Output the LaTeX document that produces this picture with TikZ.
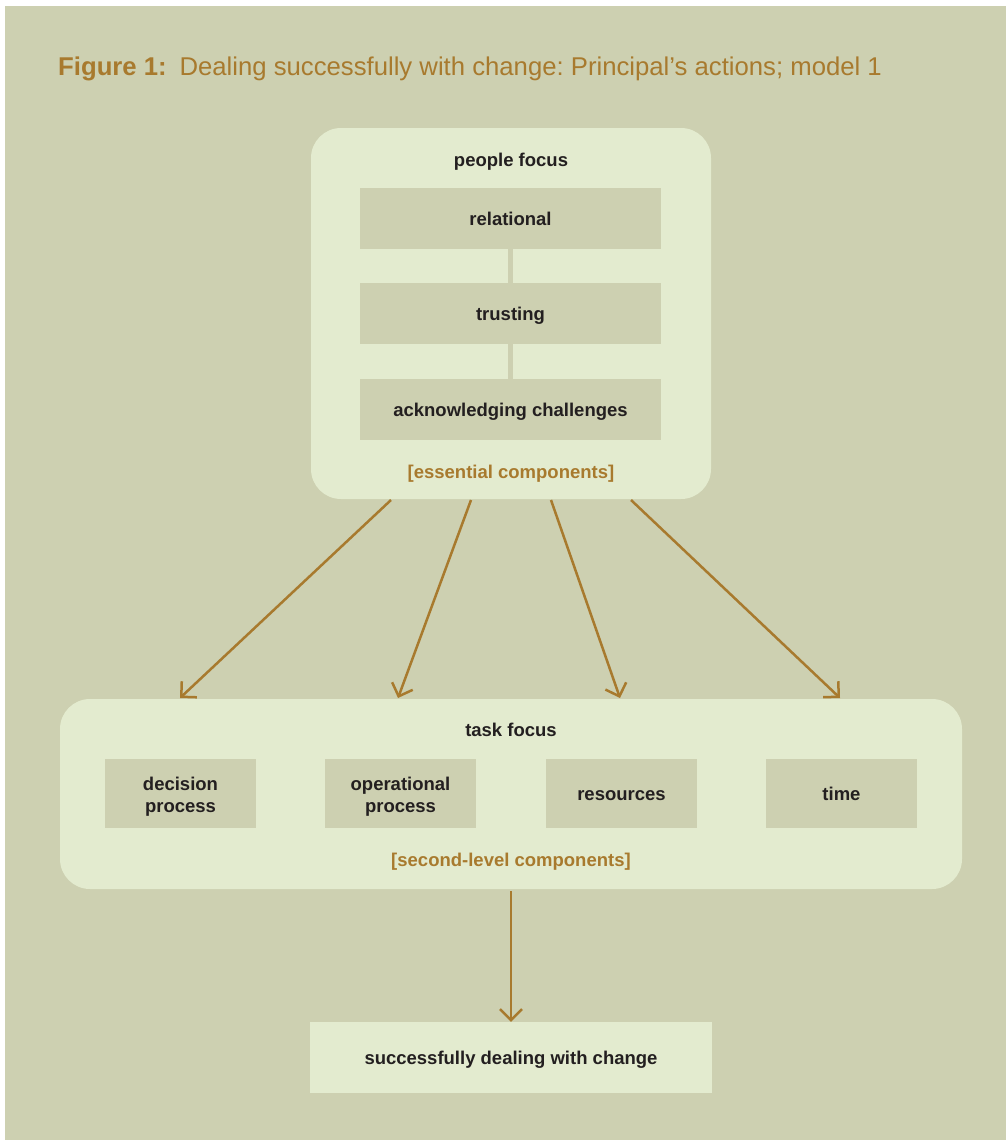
\documentclass[tikz,border=0pt]{standalone}
\usepackage{fontspec}
\setmainfont{Liberation Sans}
\usepackage{tikz}
\usetikzlibrary{arrows.meta}
\frenchspacing

\definecolor{pagebg}{RGB}{205,208,177}
\definecolor{boxbg}{RGB}{227,235,207}
\definecolor{brown}{RGB}{168,122,46}
\definecolor{ink}{RGB}{35,31,32}

\begin{document}
\begin{tikzpicture}[x=1pt, y=-1pt,
	every node/.style={font=\fontsize{18.5}{22}\selectfont\bfseries, text=ink, inner sep=0pt,
		text height=16pt, text depth=2pt},
	outer/.style={fill=boxbg, rounded corners=30pt},
	inner/.style={fill=pagebg, align=center},
	twoline/.style={text height=41.5pt, text depth=},
	note/.style={text=brown},
	arr/.style={draw=brown, line width=2.5pt, -{Straight Barb[length=11pt,width=22pt]}}]
	\useasboundingbox (0,0) rectangle (1006,1141);
	\fill[pagebg] (5,6) rectangle (1006,1140);
	\node[anchor=base west, text=brown, font=\fontsize{25.7}{30}\selectfont, text height=, text depth=] (title) at (58,75)
		{\textbf{Figure 1:}\enspace Dealing successfully with change: Principal’s actions; model 1};
	% people focus
	\node[outer, minimum width=400pt, minimum height=371pt] (people) at (511,313.5) {};
	\node (plabel) at (511,159) {people focus};
	\node[inner, minimum width=301pt, minimum height=61pt] (rel) at (510.5,218.5) {relational};
	\node[inner, minimum width=301pt, minimum height=61pt] (tru) at (510.5,313.5) {trusting};
	\node[inner, minimum width=301pt, minimum height=61pt] (ack) at (510.5,409.5) {acknowledging challenges};
	\node[note] (ess) at (511,471) {[essential components]};
	\foreach \from/\to in {rel/tru, tru/ack}
	\draw[pagebg, line width=5pt] (\from.south) -- (\to.north);
	% task focus
	\node[outer, minimum width=902pt, minimum height=190pt] (task) at (511,794) {};
	\node (tlabel) at (511,729) {task focus};
	\node[inner, twoline, minimum width=151pt, minimum height=69pt] (dec) at (180.5,793.5) {decision\\process};
	\node[inner, twoline, minimum width=151pt, minimum height=69pt] (ope) at (400.5,793.5) {operational\\process};
	\node[inner, minimum width=151pt, minimum height=69pt] (res) at (621.5,793.5) {resources};
	\node[inner, minimum width=151pt, minimum height=69pt] (tim) at (841.5,793.5) {time};
	\node[note] (sec) at (511,859) {[second-level components]};
	% result
	\node[fill=boxbg, minimum width=402pt, minimum height=71pt] (result) at (511,1057.5)
		{successfully dealing with change};
	% arrows
	\coordinate (s1) at (391,500);
	\coordinate (s2) at (471,500);
	\coordinate (s3) at (551,500);
	\coordinate (s4) at (631,500);
	\coordinate (t1) at (180,698);
	\coordinate (t2) at (398,698);
	\coordinate (t3) at (620,698);
	\coordinate (t4) at (840,698);
	\foreach \from/\to in {s1/t1, s2/t2, s3/t3, s4/t4}
	\draw[arr] (\from) -- (\to);
	\draw[arr] ([yshift=-2pt]task.south) -- (result.north);
\end{tikzpicture}
\end{document}
